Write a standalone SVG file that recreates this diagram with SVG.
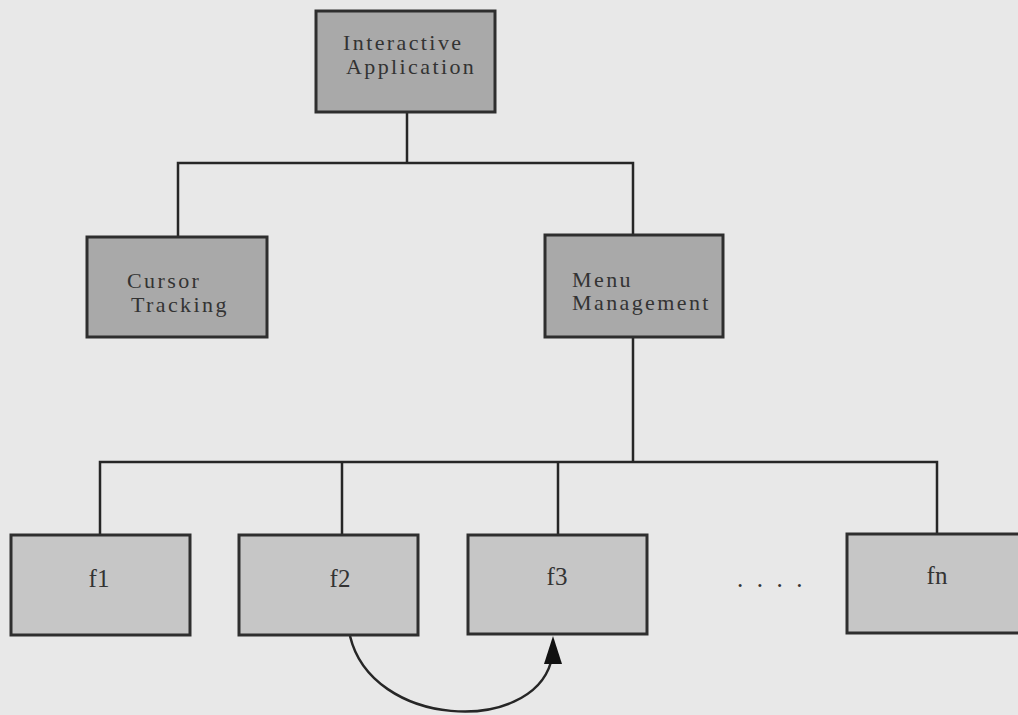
<svg xmlns="http://www.w3.org/2000/svg" width="1018" height="715" viewBox="0 0 1018 715">
<style>
.bg{fill:#e8e8e8}
.hi{fill:#a9a9a9;stroke:#2e2e2e;stroke-width:3}
.lo{fill:#c6c6c6;stroke:#2e2e2e;stroke-width:3}
.ln{fill:none;stroke:#262626;stroke-width:2.5}
text{font-family:"Liberation Serif","Times New Roman",serif;font-size:25px;fill:#333}
.t{font-size:22px;letter-spacing:2.4px}
.c{text-anchor:middle}
</style>
<rect class="bg" x="0" y="0" width="1018" height="715"/>
<g id="connectors">
<polyline class="ln" points="407,112 407,163"/>
<polyline class="ln" points="178,237 178,163 633,163 633,235"/>
<polyline class="ln" points="633,337 633,462"/>
<polyline class="ln" points="100,535 100,462 937,462 937,534"/>
<polyline class="ln" points="342,462 342,535"/>
<polyline class="ln" points="558,462 558,535"/>
<path class="ln" d="M350,636 C372,728 530,735 551,662"/>
<polygon points="553,636 544,664 562,664" fill="#111"/>
</g>
<g id="interactive-application">
<rect class="hi" x="316" y="11" width="179" height="101"/>
<text class="t" x="343" y="50">Interactive</text>
<text class="t" x="346" y="74">Application</text>
</g>
<g id="cursor-tracking">
<rect class="hi" x="87" y="237" width="180" height="100"/>
<text class="t" x="127" y="288">Cursor</text>
<text class="t" x="131" y="312">Tracking</text>
</g>
<g id="menu-management">
<rect class="hi" x="545" y="235" width="178" height="102"/>
<text class="t" x="572" y="287">Menu</text>
<text class="t" x="572" y="310">Management</text>
</g>
<g id="f1">
<rect class="lo" x="11" y="535" width="179" height="100"/>
<text class="c" x="99" y="587">f1</text>
</g>
<g id="f2">
<rect class="lo" x="239" y="535" width="179" height="100"/>
<text class="c" x="340" y="587">f2</text>
</g>
<g id="f3">
<rect class="lo" x="468" y="535" width="179" height="99"/>
<text class="c" x="557" y="585">f3</text>
</g>
<g id="fn">
<rect class="lo" x="847" y="534" width="180" height="99"/>
<text class="c" x="937" y="584">fn</text>
</g>
<g id="ellipsis">
<text x="737" y="587" style="letter-spacing:13.5px">....</text>
</g>
</svg>
